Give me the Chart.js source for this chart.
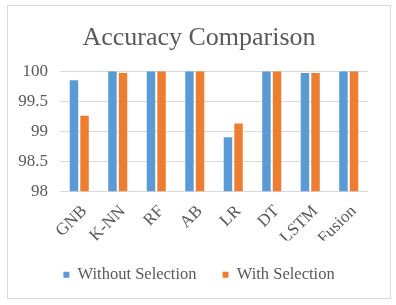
<!DOCTYPE html>
<html>
<head>
<meta charset="utf-8">
<script src="https://cdn.jsdelivr.net/npm/chart.js@4"></script>
<style>
  body { margin: 0; background: #fff; }
  #box {
    position: absolute; left: 7px; top: 5px; width: 382px; height: 292px;
    border: 1px solid #d9d9d9; background: #fff;
  }
</style>
</head>
<body>
<div id="box"><canvas id="accChart"></canvas></div>
<script>
const categories = ['GNB', 'K-NN', 'RF', 'AB', 'LR', 'DT', 'LSTM', 'Fusion'];
const withoutSelection = [99.85, 100, 100, 100, 98.9, 100, 99.97, 100];
const withSelection = [99.26, 99.97, 100, 100, 99.13, 100, 99.97, 100];
const yTicks = [98, 98.5, 99, 99.5, 100];

const serif = "'Liberation Serif', 'Times New Roman', serif";
const grey = '#595959';
Chart.defaults.font.family = serif;
Chart.defaults.color = grey;

const ctx = document.getElementById('accChart').getContext('2d');
new Chart(ctx, {
    type: 'bar',
    data: {
        labels: categories,
        datasets: [{
            label: 'Without Selection',
            data: withoutSelection,
            backgroundColor: '#5b9bd5'
        }, {
            label: 'With Selection',
            data: withSelection,
            backgroundColor: '#ed7d31'
        }]
    },
    options: {
        responsive: true,
        maintainAspectRatio: false,
        animation: false,
        categoryPercentage: 0.55,
        barPercentage: 0.8,
        layout: { padding: { left: 8, right: 8, top: 0, bottom: 5 } },
        plugins: {
            title: {
                display: true,
                text: 'Accuracy Comparison',
                font: { family: serif, size: 26, weight: 'normal' },
                padding: { top: 17, bottom: 17 }
            },
            legend: {
                position: 'bottom',
                labels: {
                    font: { family: serif, size: 16.5 },
                    boxWidth: 6,
                    boxHeight: 6,
                    padding: 26
                }
            },
            tooltip: { enabled: false }
        },
        scales: {
            y: {
                min: 98,
                max: 100,
                afterBuildTicks: axis => { axis.ticks = yTicks.map(v => ({ value: v })); },
                afterFit: axis => { axis.width = 44; },
                ticks: {
                    font: { family: serif, size: 17 },
                    padding: 12,
                    callback: v => String(v)
                },
                grid: { color: '#d9d9d9', drawTicks: false },
                border: { display: false }
            },
            yRight: {
                position: 'right',
                min: 98,
                max: 100,
                afterFit: axis => { axis.width = 14; },
                ticks: { display: false },
                grid: { display: false },
                border: { display: false }
            },
            x: {
                ticks: {
                    font: { family: serif, size: 17 },
                    minRotation: 45,
                    maxRotation: 45,
                    padding: 2,
                    labelOffset: 5
                },
                afterFit: axis => { axis.height -= 10; },
                grid: { display: false },
                border: { display: false }
            }
        }
    }
});
</script>
</body>
</html>
